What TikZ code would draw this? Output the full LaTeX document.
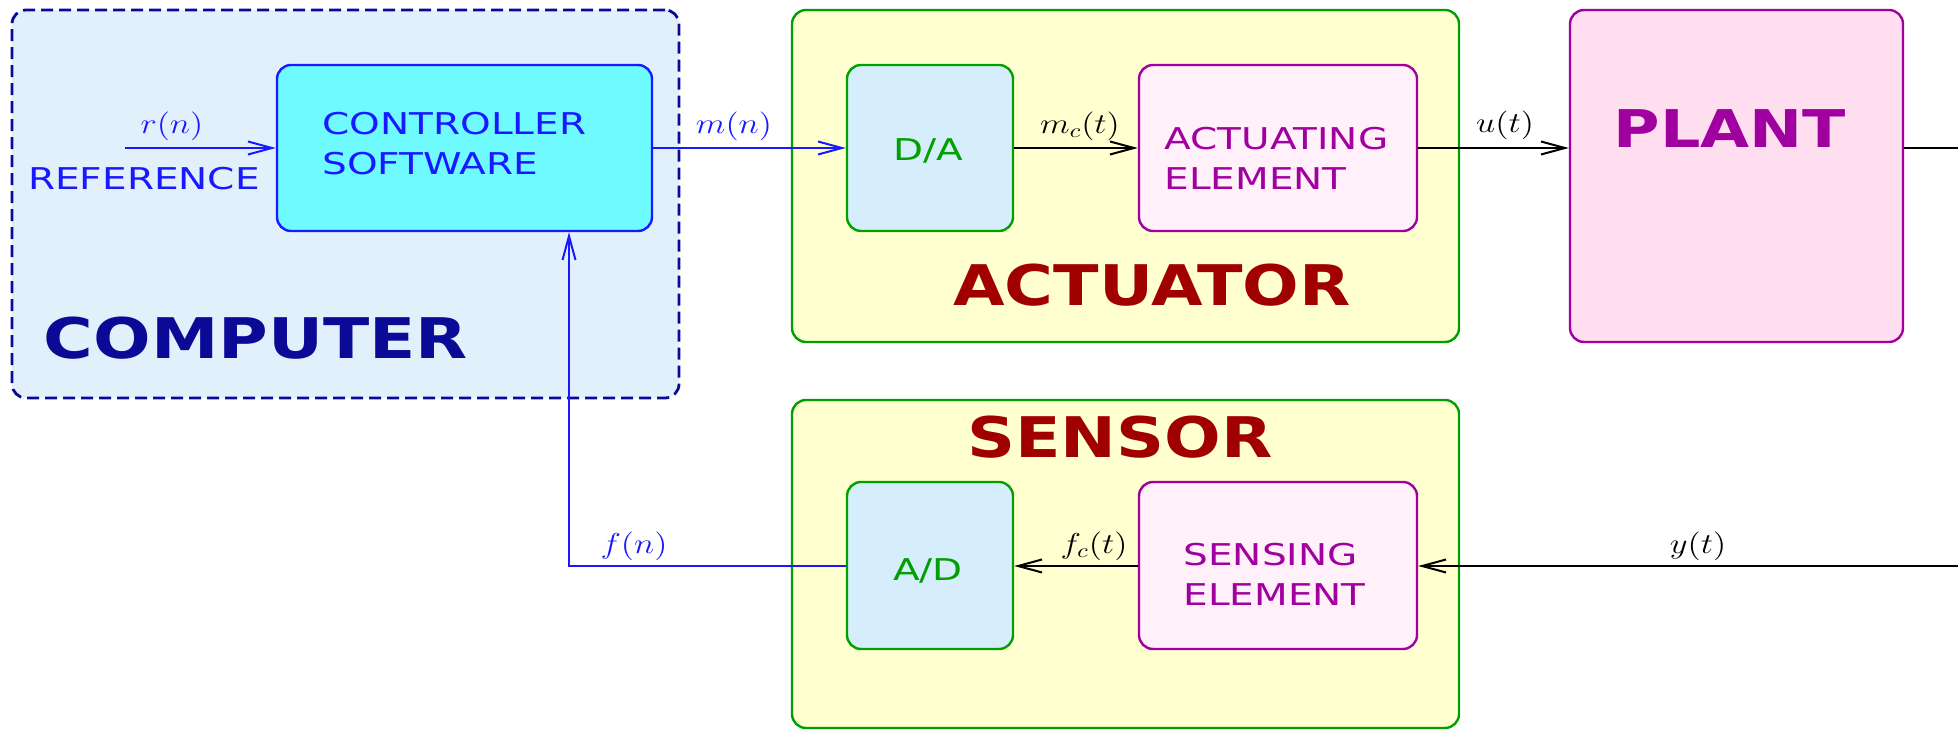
\documentclass[tikz,border=0pt]{standalone}
\usepackage{fontspec}
\usepackage{graphicx}
\usetikzlibrary{arrows.meta,fit}
\newfontfamily\lab{DejaVu Sans}
\newcommand{\sx}[2]{\scalebox{#1}[1]{#2}}
\newcommand{\mx}[1]{\scalebox{1.2}[1]{$#1$}}
\definecolor{navyc}{RGB}{10,10,150}
\definecolor{bluec}{RGB}{25,25,255}
\definecolor{cyanfill}{RGB}{110,250,255}
\definecolor{compfill}{RGB}{226,240,252}
\definecolor{yelfill}{RGB}{255,255,208}
\definecolor{greenc}{RGB}{0,160,0}
\definecolor{dafill}{RGB}{214,238,252}
\definecolor{purplec}{RGB}{160,0,160}
\definecolor{elfill}{RGB}{255,240,250}
\definecolor{plantfill}{RGB}{255,222,240}
\definecolor{redc}{RGB}{160,0,0}
\tikzset{
  box/.style={draw, rounded corners=7pt, line width=1.2pt, inner sep=0pt},
  lbl/.style={font=\lab\fontsize{15}{20}\selectfont, align=left, inner sep=0pt},
  ttl/.style={font=\lab\bfseries\fontsize{28}{30}\selectfont, inner sep=0pt},
  mth/.style={font=\fontsize{14.4}{16}\selectfont, inner sep=0pt},
  arr/.style={line width=1pt, -{Straight Barb[length=12pt,width=6.5pt,line width=1pt]}},
  ln/.style={line width=1pt},
}
\begin{document}
\begin{tikzpicture}[x=0.5pt,y=-0.5pt]
\useasboundingbox (0,0) rectangle (1958,731);
% group boxes
\node[box, draw=navyc, fill=compfill, dash pattern=on 6pt off 3pt, line width=1.4pt, fit={(12,10) (679,398)}] (computer) {};
\node[box, draw=greenc, fill=yelfill, fit={(792,10) (1459,342)}] (actuator) {};
\node[box, draw=greenc, fill=yelfill, fit={(792,400) (1459,728)}] (sensor) {};
\node[box, draw=purplec, fill=plantfill, fit={(1570,10) (1903,342)}] (plant) {};
% inner boxes
\node[box, draw=bluec, fill=cyanfill, fit={(277,65) (652,231)}] (ctrl) {};
\node[box, draw=greenc, fill=dafill, fit={(847,65) (1013,231)}] (da) {};
\node[box, draw=purplec, fill=elfill, fit={(1139,65) (1417,231)}] (act) {};
\node[box, draw=greenc, fill=dafill, fit={(847,482) (1013,649)}] (ad) {};
\node[box, draw=purplec, fill=elfill, fit={(1139,482) (1417,649)}] (sens) {};
% texts
\node[lbl, text=bluec, anchor=west] (ctrltxt) at (322,144) {\sx{1.3}{CONTROLLER}\\\sx{1.3}{SOFTWARE}};
\node[lbl, text=purplec, anchor=west] (acttxt) at (1164,158) {\sx{1.3}{ACTUATING}\\\sx{1.3}{ELEMENT}};
\node[lbl, text=purplec, anchor=west] (senstxt) at (1183,574) {\sx{1.3}{SENSING}\\\sx{1.3}{ELEMENT}};
\node[lbl, text=greenc] (datxt) at (928,151) {\sx{1.3}{D/A}};
\node[lbl, text=greenc] (adtxt) at (928,571) {\sx{1.3}{A/D}};
\node[lbl, text=bluec] (reftxt) at (144,179) {\sx{1.3}{REFERENCE}};
\node[ttl, text=navyc] (comptxt) at (256,338) {\sx{1.21}{COMPUTER}};
\node[ttl, text=redc] (acttitle) at (1152,285) {\sx{1.19}{ACTUATOR}};
\node[ttl, text=redc] (senstitle) at (1120,437) {\sx{1.19}{SENSOR}};
\node[ttl, text=purplec, font=\lab\bfseries\fontsize{26}{28}\selectfont] (planttxt) at (1730,129) {\sx{1.22}{PLANT}};
% math labels
\node[mth, text=bluec] (rn) at (172,126) {\mx{r(n)}};
\node[mth, text=bluec] (mn) at (734,126) {\mx{m(n)}};
\node[mth] (mct) at (1080,126) {\mx{m_c(t)}};
\node[mth] (ut) at (1505,125) {\mx{u(t)}};
\node[mth] (yt) at (1698,546) {\mx{y(t)}};
\node[mth] (fct) at (1094,546) {\mx{f_c(t)}};
\node[mth, text=bluec] (fn) at (634,546) {\mx{f(n)}};
% coordinates
\coordinate (rin) at (125,148);
\coordinate (pout) at (1958,148);
\coordinate (yin) at (1958,566);
\coordinate (fcorner) at (569,566);
% connectors
\draw[arr, bluec] (rin) -- (ctrl.west |- rin);
\draw[arr, bluec] (ctrl.east |- rin) -- (da.west |- rin);
\draw[arr] (da.east |- rin) -- (act.west |- rin);
\draw[arr] (act.east |- rin) -- (plant.west |- rin);
\draw[ln] (plant.east |- pout) -- (pout);
\draw[arr] (yin) -- (sens.east |- yin);
\draw[arr] (sens.west |- yin) -- (ad.east |- yin);
\draw[arr, bluec] (ad.west |- fcorner) -- (fcorner) -- (fcorner |- ctrl.south);
\end{tikzpicture}
\end{document}
